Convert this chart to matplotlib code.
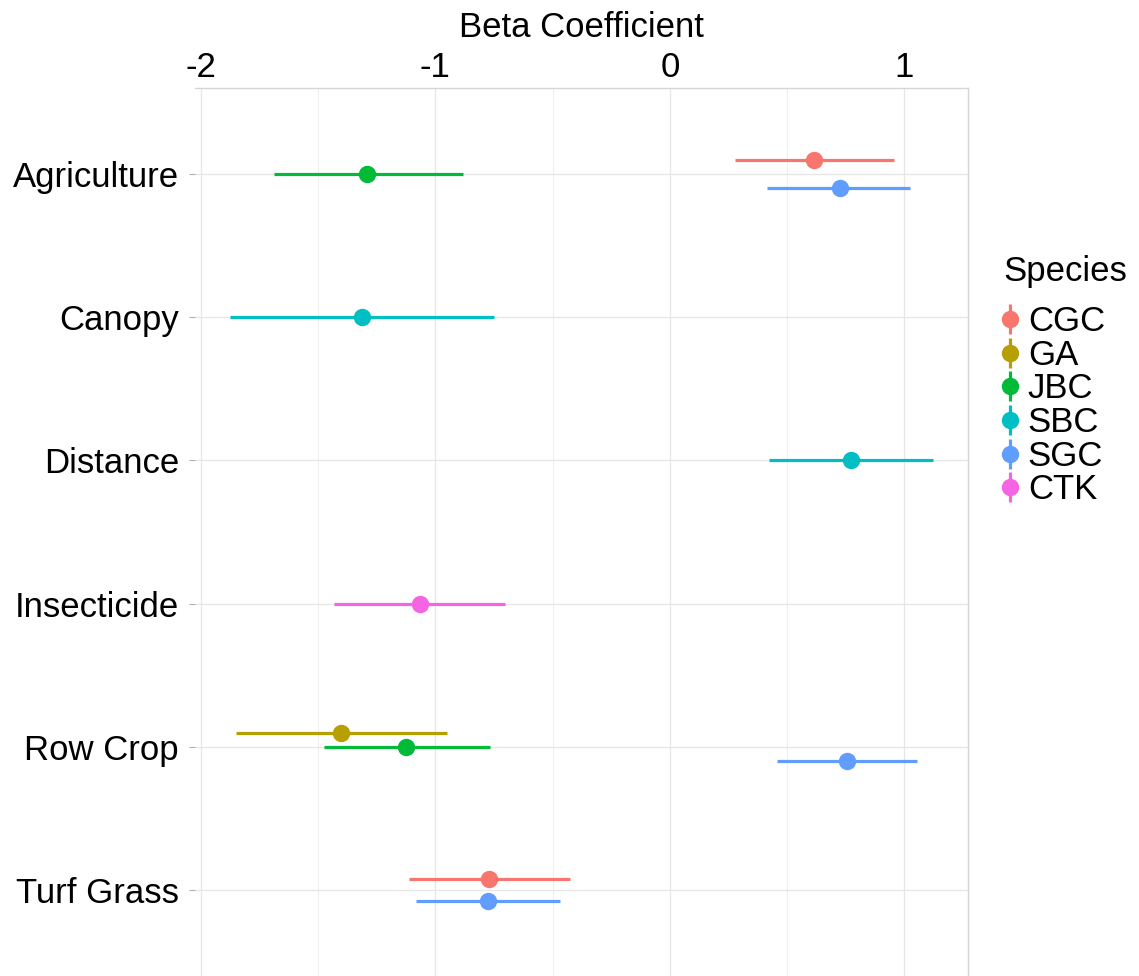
import matplotlib
matplotlib.use("Agg")
from matplotlib import pyplot as plt
from matplotlib.lines import Line2D
from matplotlib.legend_handler import HandlerTuple

plt.rcParams["font.family"] = ["Liberation Sans", "DejaVu Sans"]
plt.rcParams["axes.unicode_minus"] = False

COVARIATES = ["Agriculture", "Canopy", "Distance", "Insecticide", "Row Crop", "Turf Grass"]
SPECIES = ["CGC", "GA", "JBC", "SBC", "SGC", "CTK"]
COLORS = ["#F8766D", "#B79F00", "#00BA38", "#00BFC4", "#619CFF", "#F564E3"]

# one row per estimate
row_cov = ["Agriculture", "Agriculture", "Agriculture", "Canopy", "Distance",
           "Insecticide", "Row Crop", "Row Crop", "Row Crop", "Turf Grass", "Turf Grass"]
row_sp = ["CGC", "JBC", "SGC", "SBC", "SBC",
          "CTK", "GA", "JBC", "SGC", "CGC", "SGC"]
beta = [0.613, -1.291, 0.724, -1.312, 0.771,
        -1.065, -1.402, -1.125, 0.754, -0.771, -0.775]
lower = [0.277, -1.687, 0.413, -1.875, 0.422,
         -1.432, -1.849, -1.474, 0.456, -1.112, -1.082]
upper = [0.954, -0.884, 1.023, -0.750, 1.121,
         -0.703, -0.950, -0.767, 1.053, -0.426, -0.469]

DODGE = 0.3

fig = plt.figure(figsize=(11.39, 9.76), dpi=100)
ax = fig.add_axes([195 / 1139, 0.0, (968 - 195) / 1139, 888 / 976])

for cov_i, cov in enumerate(COVARIATES):
    idx = [i for i in range(len(row_cov)) if row_cov[i] == cov]
    idx.sort(key=lambda i: SPECIES.index(row_sp[i]))
    n = len(idx)
    for k, i in enumerate(idx):
        y = cov_i + (k - (n - 1) / 2) * DODGE / n
        c = COLORS[SPECIES.index(row_sp[i])]
        ax.plot([lower[i], upper[i]], [y, y], color=c, lw=2.3, solid_capstyle="butt", zorder=3)
        ax.plot(beta[i], y, "o", color=c, ms=11.5, zorder=4)

ax.set_xlim(-2.025, 1.271)
ax.set_ylim(len(COVARIATES) - 0.4, -0.6)
ax.set_yticks(range(len(COVARIATES)))
ax.set_yticklabels(COVARIATES)
ax.set_xticks([-2, -1, 0, 1])
ax.set_xticks([-1.5, -0.5, 0.5], minor=True)
ax.xaxis.tick_top()
ax.xaxis.set_label_position("top")
ax.set_xlabel("Beta Coefficient", fontsize=25, labelpad=10)
ax.tick_params(axis="x", which="both", length=0, labelsize=25, pad=3, colors="black")
ax.tick_params(axis="y", length=4.5, width=0.8, color="#b0b0b0", labelsize=25, pad=7)
ax.grid(True, which="major", color="#e6e6e6", lw=0.9)
ax.grid(True, which="minor", axis="x", color="#efefef", lw=0.8)
ax.set_axisbelow(True)
for s in ["left", "bottom"]:
    ax.spines[s].set_visible(False)
for s in ["top", "right"]:
    ax.spines[s].set_color("#d6d6d6")
    ax.spines[s].set_linewidth(1.0)

# legend: title drawn separately to get the wider gap above the keys
fig.text(1003 / 1139, 1 - 272 / 976, "Species", fontsize=25, ha="left", va="center")
handles = []
for c in COLORS:
    vline = Line2D([], [], ls="none", marker="|", ms=22, mew=2.3, color=c)
    dot = Line2D([], [], ls="none", marker="o", ms=11.5, color=c)
    handles.append((vline, dot))
leg = fig.legend(handles, SPECIES, loc="upper left",
                 bbox_to_anchor=(1000 / 1139, 1 - 305 / 976), frameon=False,
                 fontsize=25, handlelength=0.55, handletextpad=0.25,
                 labelspacing=0.02, borderaxespad=0, borderpad=0,
                 handler_map={tuple: HandlerTuple(ndivide=1)})

fig.savefig("out.png", dpi=100)
